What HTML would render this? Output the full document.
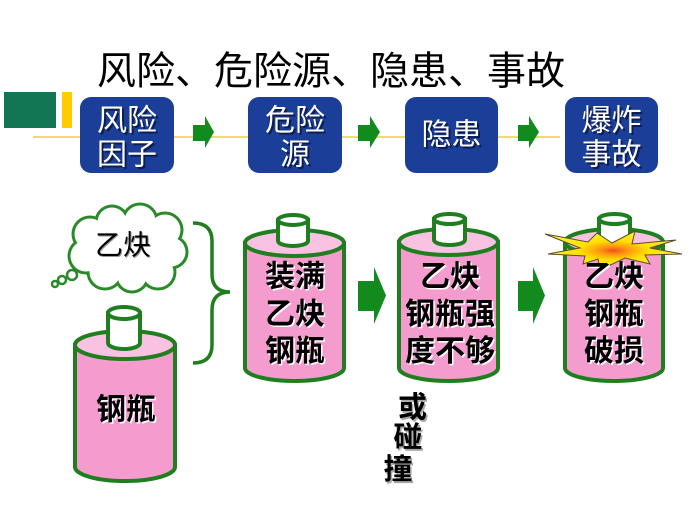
<!DOCTYPE html>
<html><head><meta charset="utf-8"><style>
html,body{margin:0;padding:0;background:#fff;}
svg{display:block;}
text{font-family:"Liberation Sans","Noto Sans CJK SC",sans-serif;}
</style></head><body>
<svg width="700" height="525" viewBox="0 0 700 525" xmlns="http://www.w3.org/2000/svg">
<defs>
<radialGradient id="boom" cx="0.5" cy="0.5" r="0.5">
<stop offset="0" stop-color="#f0501a"/>
<stop offset="0.22" stop-color="#ff9a10"/>
<stop offset="0.5" stop-color="#ffe000"/>
<stop offset="1" stop-color="#fff230"/>
</radialGradient>
</defs>
<rect width="700" height="525" fill="#fff"/>

<!-- decoration -->
<rect x="4" y="92" width="52" height="36" fill="#127553"/>
<rect x="62" y="92" width="10" height="36" fill="#ffcc00"/>
<line x1="33" y1="137" x2="560" y2="137" stroke="#f3d878" stroke-width="2"/>

<!-- title -->
<text x="97" y="72" font-size="39" dominant-baseline="central" fill="#000">风险、危险源、隐患、事故</text>

<!-- top boxes -->
<g fill="#1b3e98">
<rect x="80" y="97" width="94" height="76" rx="11"/>
<rect x="248" y="97" width="94" height="76" rx="11"/>
<rect x="405" y="97" width="93" height="76" rx="11"/>
<rect x="565" y="97" width="93" height="76" rx="11"/>
</g>
<g font-size="30" text-anchor="middle" dominant-baseline="central" fill="#0a1440" opacity="0.8">
<text x="129" y="123">风险</text><text x="129" y="157">因子</text>
<text x="297" y="123">危险</text><text x="297" y="157">源</text>
<text x="453.5" y="137">隐患</text>
<text x="613.5" y="123">爆炸</text><text x="613.5" y="157">事故</text>
</g>
<g font-size="30" text-anchor="middle" dominant-baseline="central" fill="#fff">
<text x="127" y="121">风险</text><text x="127" y="155">因子</text>
<text x="295" y="121">危险</text><text x="295" y="155">源</text>
<text x="451.5" y="135">隐患</text>
<text x="611.5" y="121">爆炸</text><text x="611.5" y="155">事故</text>
</g>

<!-- small arrows -->
<g fill="#138a1e">
<polygon points="193,125 205,125 205,116 214,132 205,148 205,141 193,141"/>
<polygon points="358,125 370,125 370,116 380,132 370,148 370,141 358,141"/>
<polygon points="518,125 529,125 529,116 539,132 529,148 529,141 518,141"/>
</g>

<!-- cloud -->
<g fill="#2a8a2a">
<circle cx="90" cy="234" r="18.5"/><circle cx="112" cy="222" r="17.5"/><circle cx="140" cy="221" r="18.5"/>
<circle cx="165" cy="230" r="18.5"/><circle cx="171" cy="252" r="17.5"/><circle cx="158" cy="272" r="18.5"/>
<circle cx="132" cy="276" r="17.5"/><circle cx="105" cy="272" r="18.5"/><circle cx="86" cy="256" r="18.5"/>
</g>
<g fill="#fff">
<circle cx="90" cy="234" r="15.5"/><circle cx="112" cy="222" r="14.5"/><circle cx="140" cy="221" r="15.5"/>
<circle cx="165" cy="230" r="15.5"/><circle cx="171" cy="252" r="14.5"/><circle cx="158" cy="272" r="15.5"/>
<circle cx="132" cy="276" r="14.5"/><circle cx="105" cy="272" r="15.5"/><circle cx="86" cy="256" r="15.5"/>
<ellipse cx="128" cy="248" rx="46" ry="30"/>
</g>
<g fill="#fff" stroke="#2a8a2a" stroke-width="2.5">
<circle cx="72" cy="275" r="5"/><circle cx="62" cy="280" r="4"/><circle cx="55" cy="284" r="3"/>
</g>
<text x="124" y="246" font-size="28" text-anchor="middle" dominant-baseline="central" fill="#999">乙炔</text>
<text x="123" y="245" font-size="28" text-anchor="middle" dominant-baseline="central" fill="#000">乙炔</text>

<!-- brace -->
<path d="M193,223 Q212,223 212,241 L212,274 Q212,292 230,292 Q212,292 212,310 L212,345 Q212,363 193,363" fill="none" stroke="#1f7f1f" stroke-width="3.5"/>

<!-- cylinders -->
<g stroke="#1f7f1f" stroke-width="4">
<path d="M75,345 L75,467 A50,14 0 0 0 175,467 L175,345 Z" fill="#f59ccf"/>
<ellipse cx="125" cy="345" rx="50" ry="14" fill="#f9c2e2"/>
<path d="M108,313 L108,343 A16,6 0 0 0 140,343 L140,313 Z" fill="#fff"/>
<ellipse cx="124" cy="313" rx="16" ry="6" fill="#fff"/>

<path d="M245,243 L245,368 A49.5,13 0 0 0 344,368 L344,243 Z" fill="#f59ccf"/>
<ellipse cx="294.5" cy="243" rx="49.5" ry="13" fill="#f9c2e2"/>
<path d="M278,220 L278,241 A15,5 0 0 0 308,241 L308,220 Z" fill="#fff"/>
<ellipse cx="293" cy="220" rx="15" ry="5" fill="#fff"/>

<path d="M399,242 L399,368 A49.5,13 0 0 0 498,368 L498,242 Z" fill="#f59ccf"/>
<ellipse cx="448.5" cy="242" rx="49.5" ry="13" fill="#f9c2e2"/>
<path d="M434,219 L434,240 A15.5,5 0 0 0 465,240 L465,219 Z" fill="#fff"/>
<ellipse cx="449.5" cy="219" rx="15.5" ry="5" fill="#fff"/>

<path d="M565,242 L565,368 A49,13 0 0 0 663,368 L663,242 Z" fill="#f59ccf"/>
<ellipse cx="614" cy="242" rx="49" ry="13" fill="#f9c2e2"/>
<path d="M599,219 L599,240 A15.5,5 0 0 0 630,240 L630,219 Z" fill="#fff"/>
<ellipse cx="614.5" cy="219" rx="15.5" ry="5" fill="#fff"/>
</g>

<!-- explosion -->
<polygon points="545,234 588,242 597,233 612,243 635,231 632,244 676,240 650,248 682,254 645,255 650,264 625,258 600,270 598,259 583,264 585,256 548,254 580,248" fill="url(#boom)" stroke="#5a4a30" stroke-width="1"/>

<!-- big arrows -->
<g fill="#138a1e">
<polygon points="358,281 374,281 374,267 386,295.5 374,324 374,311 358,311"/>
<polygon points="518,281 533,281 533,267 545,295.5 533,324 533,311 518,311"/>
</g>

<!-- cylinder texts -->
<g font-size="30" font-weight="bold" text-anchor="middle" dominant-baseline="central">
<g fill="#fff">
<text x="127.5" y="411.5">钢瓶</text>
<text x="296.5" y="278.5">装满</text><text x="296.5" y="316">乙炔</text><text x="296.5" y="353">钢瓶</text>
<text x="451.5" y="278.5">乙炔</text><text x="451.5" y="316">钢瓶强</text><text x="451.5" y="353">度不够</text>
<text x="615.5" y="278.5">乙炔</text><text x="615.5" y="316">钢瓶</text><text x="615.5" y="353">破损</text>
</g>
<g fill="#000">
<text x="126" y="410">钢瓶</text>
<text x="295" y="277">装满</text><text x="295" y="314.5">乙炔</text><text x="295" y="351.5">钢瓶</text>
<text x="450" y="277">乙炔</text><text x="450" y="314.5">钢瓶强</text><text x="450" y="351.5">度不够</text>
<text x="614" y="277">乙炔</text><text x="614" y="314.5">钢瓶</text><text x="614" y="351.5">破损</text>
</g>
</g>

<!-- 或碰撞 -->
<g font-size="29" font-weight="bold" text-anchor="middle" dominant-baseline="central">
<g fill="#aaa">
<text x="414" y="410">或</text><text x="409.5" y="440">碰</text><text x="399.5" y="472">撞</text>
</g>
<g fill="#000">
<text x="412.5" y="408">或</text><text x="408" y="438">碰</text><text x="398" y="470">撞</text>
</g>
</g>
</svg>
</body></html>
